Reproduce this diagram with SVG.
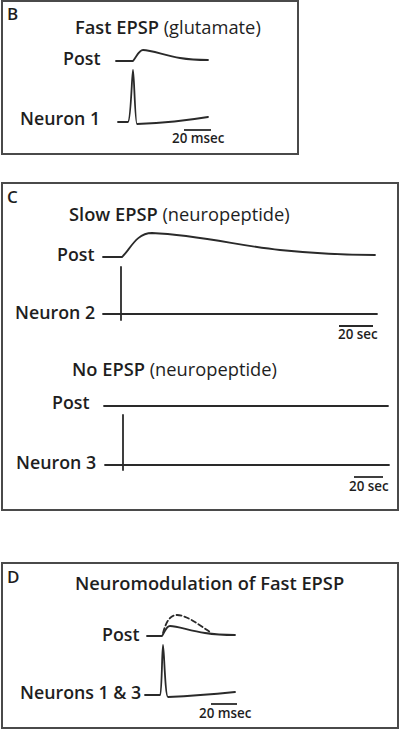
<svg xmlns="http://www.w3.org/2000/svg" width="400" height="730" viewBox="0 0 400 730">
<style>
.box{fill:#fff;stroke:#4a4a4a;stroke-width:2}
text{font-family:"Open Sans","Liberation Sans",sans-serif;fill:#1e1e1e}
.lbl{font-size:17.8px;font-weight:600}
.ttl{font-size:18.3px;font-weight:600}
.reg{font-weight:400}
.lab{font-size:17px;font-weight:600}
.sc{font-size:13.4px;font-weight:600}
.tr{fill:none;stroke:#2a2a2a;stroke-width:1.8;stroke-linejoin:round;stroke-linecap:round}
.bar{stroke:#2a2a2a;stroke-width:1.8}
</style>
<rect x="0" y="0" width="400" height="730" fill="#fff"/>
<g id="panelB">
<rect class="box" x="2" y="1" width="296" height="153"/>
<text class="lab" x="7" y="20">B</text>
<text class="ttl" x="75" y="34">Fast EPSP <tspan class="reg">(glutamate)</tspan></text>
<text class="lbl" x="63" y="65">Post</text>
<text class="lbl" x="20" y="125">Neuron 1</text>
<path class="tr" d="M116,61 L133,61 C137,56 139,50 143,50 C152,50 166,56 180,58 C192,60 200,60 208,60"/>
<path class="tr" d="M118,122 L128,122 C131,121 132,70 133,70 C134,70 135,124 137,124 C160,123 190,120 208,117"/>
<line class="bar" x1="184" y1="130" x2="211" y2="130"/>
<text class="sc" x="172" y="143">20 msec</text>
</g>
<g id="panelC">
<rect class="box" x="2" y="183" width="396" height="327"/>
<text class="lab" x="7" y="203">C</text>
<text class="ttl" x="69" y="221">Slow EPSP <tspan class="reg">(neuropeptide)</tspan></text>
<text class="lbl" x="57" y="261">Post</text>
<text class="lbl" x="15" y="319">Neuron 2</text>
<path class="tr" d="M103,257 L122,257 C130,250 136,233 152,233 C200,235 240,246 280,250 C320,254 350,255 375,255"/>
<path class="tr" d="M103,314 L377,314"/>
<path class="tr" d="M121,267 L121,320"/>
<line class="bar" x1="339" y1="326" x2="373" y2="326"/>
<text class="sc" x="338" y="339">20 sec</text>
<text class="ttl" x="72" y="376">No EPSP <tspan class="reg">(neuropeptide)</tspan></text>
<text class="lbl" x="52" y="409">Post</text>
<text class="lbl" x="16" y="469">Neuron 3</text>
<path class="tr" d="M104,406 L388,406"/>
<path class="tr" d="M105,465 L389,465"/>
<path class="tr" d="M123,415 L123,470"/>
<line class="bar" x1="354" y1="477" x2="383" y2="477"/>
<text class="sc" x="349" y="491">20 sec</text>
</g>
<g id="panelD">
<rect class="box" x="2" y="563" width="396" height="165"/>
<text class="lab" x="7" y="583">D</text>
<text class="ttl" x="75" y="590">Neuromodulation of Fast EPSP</text>
<text class="lbl" x="102" y="641">Post</text>
<text class="lbl" x="20" y="699">Neurons 1 &amp; 3</text>
<path class="tr" d="M147,636 L162,636 C165,632 166,626 170,626 C178,626 190,631 205,633 C218,635 228,635 235,635"/>
<path class="tr" d="M163,633 C166,622 170,615 177,615 C186,615 198,624 210,632" stroke-dasharray="5,3"/>
<path class="tr" d="M145,695 L160,695 C162,694 162,645 163,645 C164,645 165,697 168,697 C190,696 215,694 235,692"/>
<line class="bar" x1="211" y1="704" x2="237" y2="704"/>
<text class="sc" x="199" y="718">20 msec</text>
</g>
</svg>
